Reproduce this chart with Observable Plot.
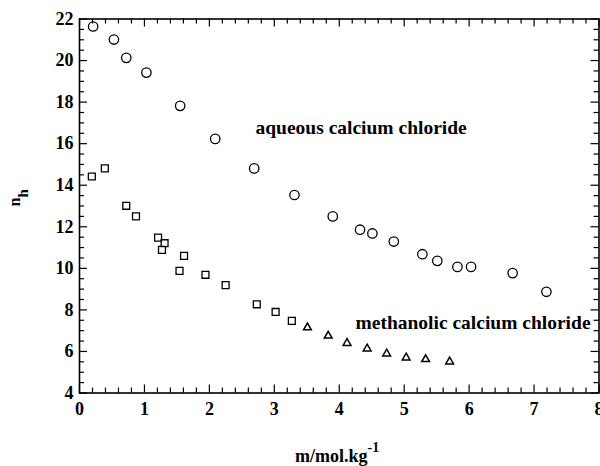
<!DOCTYPE html>
<html>
<head>
<meta charset="utf-8">
<script src="https://cdn.jsdelivr.net/npm/d3@7"></script>
<script src="https://cdn.jsdelivr.net/npm/@observablehq/plot@0.6"></script>
<style>
  html, body { margin: 0; padding: 0; background: white; overflow: hidden; }
</style>
</head>
<body>
<div id="chart"></div>
<script>
// aqueous calcium chloride (circles)
const aqueousM  = [0.21, 0.53, 0.72, 1.03, 1.55, 2.09, 2.69, 3.31, 3.90, 4.32, 4.51, 4.84, 5.28, 5.51, 5.82, 6.03, 6.67, 7.19];
const aqueousNh = [21.64, 21.01, 20.13, 19.42, 17.82, 16.23, 14.81, 13.53, 12.50, 11.86, 11.68, 11.29, 10.68, 10.36, 10.07, 10.07, 9.77, 8.87];
// methanolic calcium chloride (squares)
const methSqM  = [0.19, 0.39, 0.72, 0.87, 1.21, 1.27, 1.31, 1.54, 1.61, 1.94, 2.25, 2.73, 3.02, 3.27];
const methSqNh = [14.42, 14.81, 13.01, 12.50, 11.48, 10.89, 11.21, 9.88, 10.60, 9.69, 9.19, 8.27, 7.90, 7.47];
// methanolic calcium chloride (triangles)
const methTrM  = [3.51, 3.83, 4.12, 4.43, 4.73, 5.03, 5.33, 5.70];
const methTrNh = [7.15, 6.75, 6.40, 6.13, 5.89, 5.70, 5.62, 5.51];

const xTicks = [0, 1, 2, 3, 4, 5, 6, 7, 8];
const yTicks = [4, 6, 8, 10, 12, 14, 16, 18, 20, 22];
const xMinor = d3.range(0, 8.0001, 0.2).map(v => +v.toFixed(1)).filter(v => !xTicks.includes(v));
const yMinor = d3.range(4, 22.0001, 0.5).filter(v => !yTicks.includes(v));

const labelTexts = ["aqueous calcium chloride", "methanolic calcium chloride"];
const labelM  = [2.71, 4.25];
const labelNh = [16.75, 7.37];

const yLabelMain = "n", yLabelSub = "h";
const xLabelMain = "m/mol.kg", xLabelSup = "-1";

const toPts = (xs, ys) => xs.map((x, i) => ({x, y: ys[i]}));
const aqueous = toPts(aqueousM, aqueousNh);
const methSq = toPts(methSqM, methSqNh);
const methTr = toPts(methTrM, methTrNh);
const labels = labelTexts.map((t, i) => ({t, x: labelM[i], y: labelNh[i]}));

const W = 600, H = 466, ML = 79, MR = 1.5, MT = 18.5, MB = 73.5;
const xDom = [0, 8], yDom = [4, 22];
const pxPerX = (W - ML - MR) / (xDom[1] - xDom[0]);
const pxPerY = (H - MT - MB) / (yDom[1] - yDom[0]);
const MAJ = 8, MIN = 5;

const tickStyle = {stroke: "black", strokeWidth: 1.2};
const xTk = (data, len) => [
  Plot.ruleX(data, {x: d => d, y1: yDom[0], y2: yDom[0] + len / pxPerY, ...tickStyle}),
  Plot.ruleX(data, {x: d => d, y1: yDom[1], y2: yDom[1] - len / pxPerY, ...tickStyle})
];
const yTk = (data, len) => [
  Plot.ruleY(data, {y: d => d, x1: xDom[0], x2: xDom[0] + len / pxPerX, ...tickStyle}),
  Plot.ruleY(data, {y: d => d, x1: xDom[1], x2: xDom[1] - len / pxPerX, ...tickStyle})
];

const font = "Liberation Serif, Times New Roman, serif";
const chart = Plot.plot({
  width: W, height: H, marginLeft: ML, marginRight: MR, marginTop: MT, marginBottom: MB,
  style: {fontFamily: font, fontWeight: "bold", background: "white", color: "black"},
  x: {domain: xDom},
  y: {domain: yDom},
  marks: [
    Plot.axisX({ticks: xTicks, tickSize: 0, tickPadding: 9, fontSize: 18, fontWeight: "bold", tickFormat: d => d, label: null}),
    Plot.axisY({ticks: yTicks, tickSize: 0, tickPadding: 6, fontSize: 18, fontWeight: "bold", tickFormat: d => d, label: null}),
    ...xTk(xTicks, MAJ),
    ...xTk(xMinor, MIN),
    ...yTk(yTicks, MAJ),
    ...yTk(yMinor, MIN),
    Plot.frame({stroke: "black", strokeWidth: 1.6}),
    Plot.dot(aqueous, {x: "x", y: "y", symbol: "circle", r: 4.7, stroke: "black", strokeWidth: 1.3, fill: "none"}),
    Plot.dot(methSq, {x: "x", y: "y", symbol: "square", r: 3.9, stroke: "black", strokeWidth: 1.3, fill: "none"}),
    Plot.dot(methTr, {x: "x", y: "y", symbol: "triangle", r: 2.9, stroke: "black", strokeWidth: 1.5, fill: "none"}),
    Plot.text(labels, {x: "x", y: "y", text: "t", textAnchor: "start", lineAnchor: "middle", fontSize: 19.5, fontWeight: "bold", fill: "black"})
  ]
});
document.getElementById("chart").appendChild(chart);

// axis titles with sub/superscript as real SVG text
const svg = d3.select(chart);
const yt = svg.append("text")
  .attr("transform", `translate(${ML - 59},${MT + (H - MT - MB) / 2 + 1}) rotate(-90)`)
  .attr("text-anchor", "start")
  .attr("font-family", font).attr("font-weight", "bold").attr("font-size", 16).attr("fill", "black");
yt.append("tspan").text(yLabelMain);
yt.append("tspan").attr("dy", 8).attr("font-size", 15).text(yLabelSub);

const xt = svg.append("text")
  .attr("x", 295).attr("y", H - 4)
  .attr("text-anchor", "start")
  .attr("font-family", font).attr("font-weight", "bold").attr("font-size", 18).attr("fill", "black");
xt.append("tspan").text(xLabelMain);
xt.append("tspan").attr("dy", -10).attr("font-size", 14).text(xLabelSup);
</script>
</body>
</html>
